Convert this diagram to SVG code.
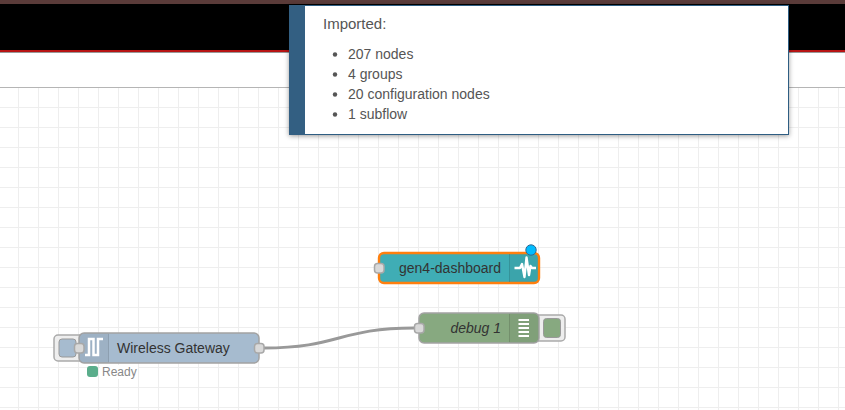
<svg xmlns="http://www.w3.org/2000/svg" width="845" height="410" viewBox="0 0 845 410">
<style>
text{font-family:"Liberation Sans",Arial,sans-serif}
.grid{stroke:#eeeeee;stroke-width:1;fill:none}
.node{stroke:#a3a3a3;stroke-width:1.500}
.port{fill:#d9d9d9;stroke:#a8a8a8;stroke-width:1.500}
.shade{fill:#000;fill-opacity:.05}
.div{stroke:#000;stroke-opacity:.1;stroke-width:1}
.label{font-size:14px;fill:#333}
.li{font-size:14px;fill:#555}
.btn{fill:#eee;stroke:#aaa;stroke-width:1.500}
</style>
<defs>
<filter id="sh" x="-5%" y="-10%" width="110%" height="125%"><feDropShadow dx="0" dy="1" stdDeviation="2.500" flood-color="#000" flood-opacity=".4"/></filter>
</defs>
<rect width="845" height="410" fill="#fff"/>
<path class="grid" d="M18.5 88V410M38.5 88V410M58.5 88V410M78.5 88V410M98.5 88V410M118.5 88V410M138.5 88V410M158.5 88V410M178.5 88V410M198.5 88V410M218.5 88V410M238.5 88V410M258.5 88V410M278.5 88V410M298.5 88V410M318.5 88V410M338.5 88V410M358.5 88V410M378.5 88V410M398.5 88V410M418.5 88V410M438.5 88V410M458.5 88V410M478.5 88V410M498.5 88V410M518.5 88V410M538.5 88V410M558.5 88V410M578.5 88V410M598.5 88V410M618.5 88V410M638.5 88V410M658.5 88V410M678.5 88V410M698.5 88V410M718.5 88V410M738.5 88V410M758.5 88V410M778.5 88V410M798.5 88V410M818.5 88V410M838.5 88V410"/>
<path class="grid" d="M0 107.5H845M0 127.5H845M0 147.5H845M0 167.5H845M0 187.5H845M0 207.5H845M0 227.5H845M0 247.5H845M0 267.5H845M0 287.5H845M0 307.5H845M0 327.5H845M0 347.5H845M0 367.5H845M0 387.5H845M0 407.5H845"/>
<rect x="0" y="53" width="845" height="34" fill="#fff"/>
<rect x="0" y="87" width="845" height="1" fill="#b5b5b5"/>
<rect x="0" y="4" width="845" height="46" fill="#000"/>
<rect x="0" y="0" width="845" height="4" fill="#5a3b39"/>
<rect x="0" y="50" width="845" height="2" fill="#b81414"/>
<rect x="0" y="52" width="845" height="1" fill="#999"/>

<g id="notification">
<rect x="289.500" y="5.500" width="499" height="129" fill="#fff" stroke="#2f5d82" filter="url(#sh)"/>
<rect x="289" y="5" width="16" height="130" fill="#335f82"/>
<text x="323" y="29" font-size="15" fill="#555">Imported:</text>
<circle cx="335" cy="54.500" r="2.200" fill="#555"/>
<circle cx="335" cy="74.500" r="2.200" fill="#555"/>
<circle cx="335" cy="94.500" r="2.200" fill="#555"/>
<circle cx="335" cy="114.500" r="2.200" fill="#555"/>
<text class="li" x="348" y="59">207 nodes</text>
<text class="li" x="348" y="79">4 groups</text>
<text class="li" x="348" y="99">20 configuration nodes</text>
<text class="li" x="348" y="119">1 subflow</text>
</g>

<g id="connectors">
<path d="M264 348C339 348 339 328 414 328" fill="none" stroke="#999" stroke-width="3"/>
</g>

<g id="node-gen4-dashboard">
<rect x="379" y="253" width="160" height="30" rx="5" fill="#3FADB5" stroke="#ff7f0e" stroke-width="2.400"/>
<path class="shade" d="M509 254H534a4 4 0 0 1 4 4V278a4 4 0 0 1-4 4H509Z"/>
<path class="div" d="M509.500 254V282"/>
<path d="M514.500 268H520L522 264L524.500 277L526.500 257.500L529 275L530.500 266L532 268H536" fill="none" stroke="#fff" stroke-width="2.400" stroke-linejoin="round"/>
<rect class="port" x="374.500" y="263.500" width="9.500" height="9.500" rx="3"/>
<circle cx="531" cy="250" r="5.200" fill="#00bcff" stroke="#2f6a94"/>
<text class="label" x="501" y="273" text-anchor="end">gen4-dashboard</text>
</g>

<g id="node-debug-1">
<path class="btn" d="M538 315H561a4 4 0 0 1 4 4V337a4 4 0 0 1-4 4H538Z"/>
<rect x="543.500" y="318.500" width="17" height="19" rx="3" fill="#87A980" stroke="#999"/>
<rect class="node" x="419" y="313" width="120" height="30" rx="5" fill="#87A980"/>
<path class="shade" d="M509 313.500H534a4.500 4.500 0 0 1 4.500 4.500V338a4.500 4.500 0 0 1-4.500 4.500H509Z"/>
<path class="div" d="M509.500 314V342"/>
<path d="M518.500 320H529M518.500 324H529M518.500 328H529M518.500 332H529M518.500 336H529" stroke="#fff" stroke-width="1.800" fill="none"/>
<rect class="port" x="414.500" y="323.500" width="9.500" height="9.500" rx="3"/>
<text class="label" x="501" y="333" text-anchor="end" font-style="italic">debug 1</text>
</g>

<g id="node-wireless-gateway">
<path class="btn" d="M80 335H58a4 4 0 0 0-4 4V357a4 4 0 0 0 4 4H80Z"/>
<rect x="59" y="339" width="17" height="18" rx="3" fill="#A6BBCF" stroke="#999"/>
<rect class="node" x="79" y="333" width="180" height="30" rx="5" fill="#A6BBCF"/>
<path class="shade" d="M109 333.500H84a4.500 4.500 0 0 0-4.500 4.500V358a4.500 4.500 0 0 0 4.500 4.500H109Z"/>
<path class="div" d="M108.500 334V362"/>
<path d="M85 355H89V339H93.500V355H98V339H103" fill="none" stroke="#fff" stroke-width="2.500"/>
<rect class="port" x="74.500" y="343.500" width="9.500" height="9.500" rx="3"/>
<rect class="port" x="254.500" y="343.500" width="9.500" height="9.500" rx="3"/>
<text class="label" x="117" y="353">Wireless Gateway</text>
<rect x="100" y="365" width="38" height="14" fill="#fff"/>
<rect x="87" y="366" width="11" height="11" rx="3" fill="#5aad8b"/>
<text x="102" y="376" font-size="12" fill="#888">Ready</text>
</g>
</svg>
